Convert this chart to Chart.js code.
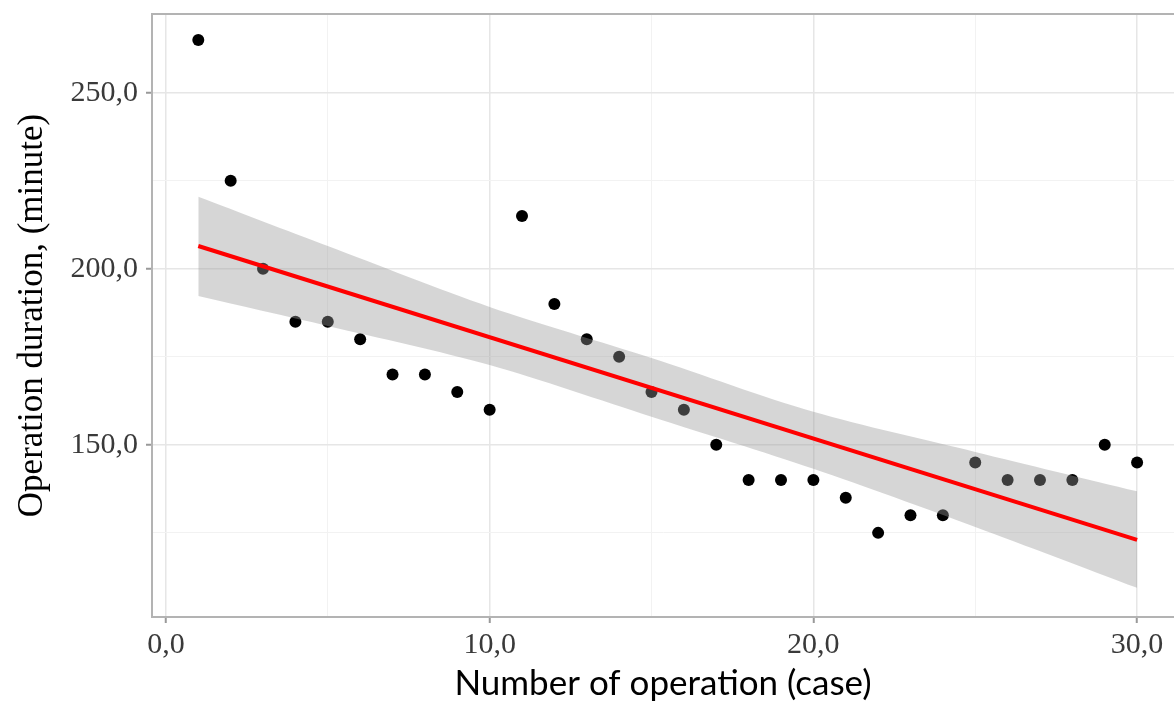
<!DOCTYPE html>
<html>
<head>
<meta charset="utf-8">
<script src="https://cdn.jsdelivr.net/npm/chart.js@4.4.1/dist/chart.umd.min.js"></script>
<style>
  html, body { margin: 0; padding: 0; background: #ffffff; }
  canvas { display: block; }
</style>
</head>
<body>
<canvas id="c" width="1174" height="701"></canvas>
<script>
// ---- data ----
const caseNumbers = [1,2,3,4,5,6,7,8,9,10,11,12,13,14,15,16,17,18,19,20,21,22,23,24,25,26,27,28,29,30];
const durations   = [265,225,200,185,185,180,170,170,165,160,215,190,180,175,165,160,150,140,140,140,135,125,130,130,145,140,140,140,150,145];
const fitX = [1, 30];
const fitY = [206.5, 123.0];
const bandX     = [1, 5, 10, 15, 20, 25, 30];
const bandUpper = [220.5, 206.5, 189.2, 174.7, 159.4, 148.0, 136.8];
const bandLower = [192.3, 183.8, 172.7, 158.0, 143.2, 126.7, 109.4];
const xTickValues = [0, 10, 20, 30];
const yTickValues = [150, 200, 250];
const xTitle = 'Number of operation (case)';
const yTitle = 'Operation duration, (minute)';

const toXY = (xs, ys) => xs.map((x, i) => ({x: x, y: ys[i]}));
const fmt = v => v.toFixed(1).replace('.', ',');
const noPad = s => { s.paddingTop = 0; s.paddingBottom = 0; s.paddingLeft = 0; s.paddingRight = 0; };

const panelBorder = {
  id: 'panelBorder',
  beforeDatasetsDraw(chart) {
    const {ctx, chartArea} = chart;
    ctx.save();
    ctx.strokeStyle = '#b3b3b3';
    ctx.lineWidth = 2;
    ctx.beginPath();
    ctx.moveTo(chartArea.left, chartArea.top);
    ctx.lineTo(chartArea.right, chartArea.top);
    ctx.stroke();
    ctx.restore();
  }
};

new Chart(document.getElementById('c'), {
  type: 'scatter',
  data: {
    datasets: [
      {
        label: 'fit',
        data: toXY(fitX, fitY),
        showLine: true,
        borderColor: '#ff0000',
        borderWidth: 4,
        pointRadius: 0,
        fill: false,
        order: 0
      },
      {
        label: 'upper',
        data: toXY(bandX, bandUpper),
        showLine: true,
        borderWidth: 0,
        borderColor: 'rgba(0,0,0,0)',
        pointRadius: 0,
        tension: 0.3,
        fill: '+1',
        backgroundColor: 'rgba(153,153,153,0.4)',
        order: 1
      },
      {
        label: 'lower',
        data: toXY(bandX, bandLower),
        showLine: true,
        borderWidth: 0,
        borderColor: 'rgba(0,0,0,0)',
        pointRadius: 0,
        tension: 0.3,
        fill: false,
        order: 1
      },
      {
        label: 'cases',
        data: toXY(caseNumbers, durations),
        pointRadius: 6,
        pointHoverRadius: 6,
        backgroundColor: '#000000',
        borderWidth: 0,
        order: 2
      }
    ]
  },
  options: {
    responsive: false,
    animation: false,
    layout: { autoPadding: false, padding: { top: 14, right: 0, left: 0, bottom: 0 } },
    plugins: {
      legend: { display: false },
      tooltip: { enabled: false }
    },
    scales: {
      x: {
        type: 'linear',
        min: -0.43,
        max: 31.14,
        afterFit(s) { s.height = 84; noPad(s); },
        border: { color: '#b3b3b3', width: 2 },
        grid: {
          color: ctx => (ctx.tick && ctx.tick.value % 10 === 0) ? '#e6e6e6' : '#f2f2f2',
          lineWidth: ctx => (ctx.tick && ctx.tick.value % 10 === 0) ? 1.5 : 1,
          tickLength: 6,
          tickColor: ctx => (ctx.tick && xTickValues.includes(ctx.tick.value)) ? '#999999' : 'rgba(0,0,0,0)',
          tickWidth: 2
        },
        ticks: {
          stepSize: 5,
          includeBounds: false,
          autoSkip: false,
          maxRotation: 0,
          padding: 4,
          color: '#3a3a3a',
          font: { family: 'Liberation Serif', size: 30 },
          callback: v => xTickValues.includes(v) ? fmt(v) : ''
        },
        title: {
          display: true,
          text: xTitle,
          color: '#000000',
          font: { family: 'Lato', size: 35, lineHeight: 1.0 },
          padding: { top: 0, bottom: 0 }
        }
      },
      y: {
        type: 'linear',
        min: 101.1,
        max: 272.4,
        afterFit(s) { s.width = 152; noPad(s); },
        border: { color: '#b3b3b3', width: 2 },
        grid: {
          color: ctx => (ctx.tick && ctx.tick.value % 50 === 0) ? '#e6e6e6' : '#f2f2f2',
          lineWidth: ctx => (ctx.tick && ctx.tick.value % 50 === 0) ? 1.5 : 1,
          tickLength: 6,
          tickColor: ctx => (ctx.tick && yTickValues.includes(ctx.tick.value)) ? '#999999' : 'rgba(0,0,0,0)',
          tickWidth: 2
        },
        ticks: {
          stepSize: 25,
          includeBounds: false,
          autoSkip: false,
          padding: 8,
          color: '#3a3a3a',
          font: { family: 'Liberation Serif', size: 30 },
          callback: v => yTickValues.includes(v) ? fmt(v) : ''
        },
        title: {
          display: true,
          text: yTitle,
          color: '#000000',
          font: { family: 'Liberation Serif', size: 35 },
          padding: { top: 12, bottom: 0 }
        }
      }
    }
  },
  plugins: [panelBorder]
});
</script>
</body>
</html>
